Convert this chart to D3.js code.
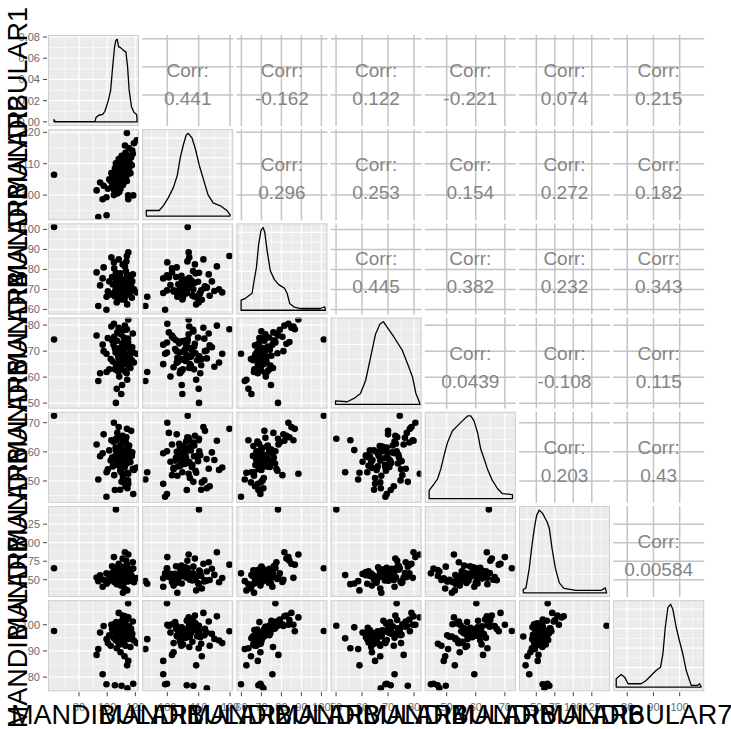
<!DOCTYPE html>
<html><head><meta charset="utf-8">
<script src="https://cdn.jsdelivr.net/npm/d3@7"></script>
<style>
body{margin:0;background:#fff;}
svg{display:block;font-family:"Liberation Sans",Arial,sans-serif;}
</style>
</head><body>
<svg id="c" width="731" height="729"></svg>
<script>
// ---------- data ----------
const varNames = ["MANDIBULAR1","MANDIBULAR2","MANDIBULAR3","MANDIBULAR4","MANDIBULAR5","MANDIBULAR6","MANDIBULAR7"];

const mand1 = [62.3,106.2,114.0,99.5,105.5,110.2,114.4,118.5,114.9,93.7,99.6,96.8,115.0,92.5,95.0,97.5,100.5,101.5,102.5,103.0,
104.0,104.5,105.0,105.5,106.0,106.3,106.5,106.8,107.0,107.2,107.5,107.8,108.0,108.2,108.5,108.8,109.0,109.3,109.5,109.8,
110.0,110.3,110.5,110.8,111.0,111.3,111.5,111.8,112.0,112.3,112.5,112.8,113.0,113.3,113.5,113.8,114.0,114.2,114.5,114.8,
115.0,115.3,115.6,116.0,116.5,117.0,117.5,118.2,119.0,117.8,121.0,104.8,108.6,111.2,103.5,109.2,112.6,106.6,110.6,113.6];
const mand2 = [106.5,110.1,119.8,99.3,106.2,108.3,112.6,99.9,99.9,93.0,93.6,98.7,98.7,101.5,104.0,103.0,102.0,105.0,104.5,107.0,
103.5,106.0,101.5,108.5,104.0,107.5,102.5,110.0,105.5,100.5,
108.0,104.5,106.5,111.5,103.0,107.0,105.0,109.0,102.0,106.8,
104.8,112.5,106.2,103.8,108.8,107.2,105.2,109.8,104.2,111.0,
107.8,105.8,113.5,108.2,106.0,110.5,104.5,109.2,107.5,111.8,
106.8,115.0,108.6,110.2,107.0,112.0,109.5,113.2,116.5,114.2,
117.5,100.0,101.0,103.2,102.8,110.8,115.8,105.6,104.6,106.4];
const mand3 = [101.2,78.3,86.7,59.8,68.5,70.0,71.0,69.5,77.0,61.7,66.3,75.5,68.2,78.5,72.0,81.0,69.0,74.0,67.5,86.0,
72.5,68.0,80.5,66.5,70.0,74.5,69.0,63.5,71.5,76.0,
67.0,73.0,70.5,85.0,68.5,71.0,66.0,78.0,69.5,72.0,
65.0,70.8,75.0,68.8,82.5,71.2,67.8,73.8,69.8,64.8,
74.2,70.2,66.8,79.2,71.8,68.2,76.8,62.5,72.8,70.6,
88.5,69.2,73.2,67.5,75.8,71.5,65.8,77.5,70.0,74.0,
68.5,83.5,72.2,66.3,76.2,69.6,81.5,71.0,74.8,84.0];
const mand4 = [74.5,50.1,78.4,69.0,71.0,77.6,67.2,69.5,73.3,58.5,62.0,72.5,65.0,76.0,61.5,70.0,75.0,63.0,67.0,79.5,
66.0,72.5,75.5,63.0,69.5,64.5,70.8,55.5,74.0,77.2,
68.8,62.2,67.5,79.0,65.5,71.2,66.8,69.2,63.8,76.5,
53.5,70.2,68.2,73.0,72.8,65.0,69.8,75.2,62.5,67.0,
70.5,66.2,72.2,78.2,68.6,61.5,73.8,59.0,67.8,74.8,
82.2,64.0,71.8,68.0,63.5,70.0,66.5,76.8,65.6,71.5,
69.0,80.5,60.2,67.4,74.2,64.6,79.8,70.6,57.0,73.5];
const mand5 = [72.4,64.5,67.9,44.6,46.9,49.7,47.5,45.5,60.2,50.5,53.0,59.5,49.0,62.5,58.5,66.0,54.0,60.5,57.0,64.0,
55.0,63.5,52.0,58.5,61.5,60.5,57.0,64.0,59.0,66.5,
55.5,58.2,61.2,68.5,60.0,56.2,62.0,53.5,54.5,64.8,
53.0,57.5,60.8,62.8,65.5,51.0,59.5,56.8,55.2,49.5,
54.8,59.2,48.2,63.2,57.8,58.8,56.0,52.8,61.8,50.2,
52.5,57.2,62.2,60.2,56.5,67.2,58.6,54.2,53.8,59.8,
54.6,70.0,56.6,51.8,58.0,47.0,63.8,55.8,60.6,65.0];
const mand6 = [65.4,145.0,70.3,58.6,63.0,67.6,61.0,65.0,65.4,48.0,44.5,40.5,51.9,53.0,56.0,50.0,47.0,55.0,58.0,52.5,
52.0,61.5,47.0,55.5,66.0,50.5,58.0,44.0,63.5,53.5,
49.0,57.5,60.0,71.5,46.0,54.5,62.8,51.0,42.0,59.0,
56.2,48.5,64.2,53.2,78.5,50.0,57.2,45.5,61.2,38.0,
55.2,66.8,49.5,58.8,52.8,60.2,69.0,35.5,54.0,47.5,
84.0,56.5,51.5,62.5,58.2,49.2,54.8,73.5,46.5,64.8,
52.2,80.5,57.8,32.4,68.2,55.0,87.0,59.8,44.8,75.5];
const mand7 = [97.6,99.6,97.5,77.3,76.9,76.7,75.8,77.5,108.2,90.7,94.5,81.1,86.2,88.5,97.0,99.5,93.0,96.0,92.0,100.0,
97.5,95.0,100.2,98.0,94.2,96.8,101.0,91.0,97.2,99.5,
93.5,98.8,96.0,104.5,95.8,97.8,92.5,100.5,89.5,99.2,
94.8,97.0,101.5,96.4,103.5,95.4,98.2,96.2,93.2,88.0,
99.8,96.6,92.0,102.0,97.4,95.2,98.6,84.5,97.9,96.0,
102.8,94.6,99.4,97.6,91.5,98.4,95.6,101.2,94.0,96.5,
93.0,100.0,97.0,95.5,98.5,92.7,103.2,96.8,99.0,101.8];

// density curves: [value, density]
const dens1 = [[62.3,0],[62.3,0.0022],[63.0,0.0003],[91.3,0.0003],[92.0,0.0038],[93.7,0.006],[96.8,0.007],[98.4,0.010],[100.8,0.020],[102.5,0.030],[103.9,0.052],[105.3,0.071],[106.2,0.077],[107.1,0.078],[108.1,0.071],[109.5,0.070],[111.9,0.067],[113.3,0.066],[114.5,0.052],[115.6,0.030],[117.3,0.014],[119.0,0.009],[120.9,0.007],[121.3,0]];
const dens2 = [[93.3,0],[93.3,0.0057],[97.4,0.0057],[98.7,0.0105],[100.3,0.0187],[101.9,0.029],[103.2,0.042],[104.1,0.0595],[105.1,0.073],[106.0,0.083],[106.7,0.085],[107.9,0.080],[108.9,0.0697],[110.2,0.052],[111.4,0.039],[113.0,0.0217],[114.6,0.0136],[116.9,0.0105],[119.1,0.0054],[120.0,0.0013],[120.0,0]];
const dens3 = [[59.85,0],[59.85,0.0105],[62.0,0.0123],[65.35,0.0175],[66.15,0.028],[67.5,0.0438],[68.65,0.0683],[69.85,0.0823],[70.85,0.085],[71.65,0.0805],[72.85,0.0613],[74.5,0.0403],[76.5,0.0315],[78.65,0.0263],[81.5,0.0228],[82.85,0.0175],[84.15,0.007],[86.15,0.0036],[89.5,0.0018],[99.5,0.0018],[101.65,0.0036],[102,0]];
const dens4 = [[49.8,0],[49.8,0.0024],[54.3,0.0018],[56.9,0.004],[59.4,0.0073],[61.4,0.0161],[63.3,0.0315],[65.2,0.0469],[66.9,0.0535],[68.2,0.055],[69.7,0.0513],[72.3,0.0447],[75.5,0.0359],[77.5,0.0271],[79.4,0.0183],[80.7,0.0073],[82.0,0.0018],[82.4,0]];
const dens5 = [[44.0,0],[44.0,0.007],[45.7,0.0126],[46.9,0.0168],[48.0,0.0252],[49.1,0.0364],[50.3,0.0476],[52.0,0.0574],[53.7,0.0616],[55.4,0.0658],[57.2,0.07],[58.3,0.07],[59.4,0.0658],[60.6,0.056],[61.7,0.042],[62.9,0.0336],[64.0,0.0252],[65.7,0.0154],[67.5,0.0084],[69.2,0.0042],[72.6,0.0034],[72.6,0]];
const dens6 = [[32.4,0],[32.4,0.0018],[36.1,0.0027],[40.5,0.0135],[44.2,0.0261],[47.3,0.0351],[50.5,0.0423],[54.0,0.045],[58.6,0.0432],[64.4,0.0387],[67.6,0.0351],[71.2,0.0243],[75.7,0.0135],[81.1,0.0054],[87.4,0.0024],[103.6,0.0013],[137.4,0.0013],[143.2,0.0027],[145.1,0]];
const dens7 = [[75.8,0],[75.8,0.0085],[77.7,0.013],[79.0,0.0102],[80.3,0.0034],[85.3,0.0034],[87.2,0.0068],[89.1,0.0119],[91.0,0.017],[92.7,0.0204],[93.6,0.034],[94.5,0.0612],[95.5,0.0816],[96.5,0.085],[97.4,0.0799],[98.7,0.0612],[99.9,0.0476],[101.2,0.034],[102.5,0.017],[104.4,0.0017],[106.7,0.0017],[107.6,0.0034],[108.2,0]];

// axis ranges (with ggplot expansion) and tick labels
const range1 = [58, 122.6], range2 = [92, 121], range3 = [57.5, 103], range4 = [47.9, 82.9],
      range5 = [42.5, 73.75], range6 = [26.6, 149.6], range7 = [74.65, 109.35];
const ticks1 = [80,100,120], ticks2 = [100,110,120], ticks3 = [60,70,80,90,100], ticks4 = [50,60,70,80],
      ticks5 = [50,60,70], ticks6 = [50,75,100,125], ticks7 = [80,90,100];
const densTicks = [0,0.02,0.04,0.06,0.08];

// correlation labels, upper triangle row by row
const corrLabels = ["0.441","-0.162","0.122","-0.221","0.074","0.215",
                    "0.296","0.253","0.154","0.272","0.182",
                    "0.445","0.382","0.232","0.343",
                    "0.0439","-0.108","0.115",
                    "0.203","0.43",
                    "0.00584"];

// ---------- drawing ----------
const cols = [mand1,mand2,mand3,mand4,mand5,mand6,mand7];
const ranges = [range1,range2,range3,range4,range5,range6,range7];
const ticks = [ticks1,ticks2,ticks3,ticks4,ticks5,ticks6,ticks7];
const dens = [dens1,dens2,dens3,dens4,dens5,dens6,dens7];
const N = 7, PX = 48, PY = 35, STEP = 94.2, SZ = 91;
const rows = d3.range(mand1.length);

const svg = d3.select("#c");
const xs = ranges.map((d,i)=>d3.scaleLinear().domain(d).range([PX+i*STEP, PX+i*STEP+SZ]));
const ys = ranges.map((d,i)=>d3.scaleLinear().domain(d).range([PY+i*STEP+SZ, PY+i*STEP]));
const dys = dens.map((d,i)=>{
  const m = d3.max(d, p=>p[1]);
  return d3.scaleLinear().domain([-0.05*m, 1.05*m]).range([PY+i*STEP+SZ, PY+i*STEP]);
});

function minors(scale, majors){
  const dom = scale.domain(), lo = Math.min(...dom), hi = Math.max(...dom);
  const step = majors[1]-majors[0];
  const out = [majors[0]-step/2].concat(majors.map(m=>m+step/2));
  return out.filter(v=>v>lo && v<hi);
}
function inDom(scale, vals){
  const dom = scale.domain(), lo = Math.min(...dom), hi = Math.max(...dom);
  return vals.filter(v=>v>=lo && v<=hi);
}

const defs = svg.append("defs");
const gPanels = svg.append("g");

for (let r=0; r<N; r++){
  for (let c=0; c<N; c++){
    const x0 = PX + c*STEP, y0 = PY + r*STEP;
    const g = gPanels.append("g");
    const xsc = xs[c];
    const xMaj = inDom(xsc, ticks[c]);
    if (r < c){
      g.append("rect").attr("x",x0).attr("y",y0).attr("width",SZ).attr("height",SZ).attr("fill","#fff");
      const ysc = ys[r];
      const yMaj = inDom(ysc, ticks[r]);
      g.selectAll(".vx").data(xMaj).enter().append("line")
        .attr("x1",d=>xsc(d)).attr("x2",d=>xsc(d)).attr("y1",y0).attr("y2",y0+SZ)
        .attr("stroke","#c4c4c4").attr("stroke-width",1.5);
      g.selectAll(".hy").data(yMaj).enter().append("line")
        .attr("y1",d=>ysc(d)).attr("y2",d=>ysc(d)).attr("x1",x0).attr("x2",x0+SZ)
        .attr("stroke","#c4c4c4").attr("stroke-width",1.5);
      const idx = r*N - r*(r+1)/2 + (c - r - 1);
      g.append("text").attr("x",x0+SZ/2).attr("y",y0+42).attr("text-anchor","middle")
        .attr("font-size",19).attr("fill","#858585").text("Corr:");
      g.append("text").attr("x",x0+SZ/2).attr("y",y0+70).attr("text-anchor","middle")
        .attr("font-size",19).attr("fill","#858585").text(corrLabels[idx]);
      continue;
    }
    const ysc = (r===c) ? dys[r] : ys[r];
    const yMaj = (r===c) ? inDom(ysc, densTicks) : inDom(ysc, ticks[r]);
    g.append("rect").attr("x",x0).attr("y",y0).attr("width",SZ).attr("height",SZ).attr("fill","#ebebeb");
    g.selectAll(".mx").data(minors(xsc, ticks[c])).enter().append("line")
      .attr("x1",d=>xsc(d)).attr("x2",d=>xsc(d)).attr("y1",y0).attr("y2",y0+SZ)
      .attr("stroke","#fff").attr("stroke-width",0.6);
    g.selectAll(".my").data(minors(ysc, (r===c)?densTicks:ticks[r])).enter().append("line")
      .attr("y1",d=>ysc(d)).attr("y2",d=>ysc(d)).attr("x1",x0).attr("x2",x0+SZ)
      .attr("stroke","#fff").attr("stroke-width",0.6);
    g.selectAll(".Mx").data(xMaj).enter().append("line")
      .attr("x1",d=>xsc(d)).attr("x2",d=>xsc(d)).attr("y1",y0).attr("y2",y0+SZ)
      .attr("stroke","#fff").attr("stroke-width",1.2);
    g.selectAll(".My").data(yMaj).enter().append("line")
      .attr("y1",d=>ysc(d)).attr("y2",d=>ysc(d)).attr("x1",x0).attr("x2",x0+SZ)
      .attr("stroke","#fff").attr("stroke-width",1.2);
    const cid = "cl"+r+"_"+c;
    defs.append("clipPath").attr("id",cid).append("rect")
      .attr("x",x0).attr("y",y0).attr("width",SZ).attr("height",SZ);
    const inner = g.append("g").attr("clip-path","url(#"+cid+")");
    if (r===c){
      const line = d3.line().x(d=>xsc(d[0])).y(d=>ysc(d[1]));
      inner.append("path").attr("d", line(dens[c]) + "Z")
        .attr("fill","none").attr("stroke","#000").attr("stroke-width",1.3)
        .attr("stroke-linejoin","round");
    } else {
      inner.selectAll("circle").data(rows).enter().append("circle")
        .attr("cx",i=>xsc(cols[c][i])).attr("cy",i=>ys[r](cols[r][i]))
        .attr("r",3.3).attr("fill","#000");
    }
    g.append("rect").attr("x",x0+0.5).attr("y",y0+0.5).attr("width",SZ-1).attr("height",SZ-1)
      .attr("fill","none").attr("stroke","#cfcfcf").attr("stroke-width",1);
  }
}

// axes: ticks and tick labels
const gAx = svg.append("g").attr("font-size",11).attr("fill","#6a6a6a");
const bottom = PY + (N-1)*STEP + SZ;
for (let i=0;i<N;i++){
  inDom(xs[i], ticks[i]).forEach(v=>{
    const x = xs[i](v);
    gAx.append("line").attr("x1",x).attr("x2",x).attr("y1",bottom+1).attr("y2",bottom+5)
      .attr("stroke","#444").attr("stroke-width",1);
    gAx.append("text").attr("x",x).attr("y",bottom+20).attr("text-anchor","middle").text(v);
  });
  const ysc = (i===0) ? dys[0] : ys[i];
  const tv = (i===0) ? inDom(ysc, densTicks) : inDom(ysc, ticks[i]);
  const fmt = (i===0) ? d3.format(".2f") : (v=>v);
  tv.forEach(v=>{
    const y = ysc(v);
    gAx.append("line").attr("x1",PX-5).attr("x2",PX-1).attr("y1",y).attr("y2",y)
      .attr("stroke","#444").attr("stroke-width",1);
    gAx.append("text").attr("x",PX-8).attr("y",y+4).attr("text-anchor","end").text(fmt(v));
  });
}

// variable titles
const gT = svg.append("g").attr("font-size",27).attr("fill","#000");
varNames.forEach((name,i)=>{
  gT.append("text").attr("x",107 + i*88.2).attr("y",724).attr("text-anchor","middle").text(name);
  gT.append("text").attr("transform","translate(27,"+(103 + i*88.2)+") rotate(-90)")
    .attr("text-anchor","middle").text(name);
});
</script>
</body></html>
